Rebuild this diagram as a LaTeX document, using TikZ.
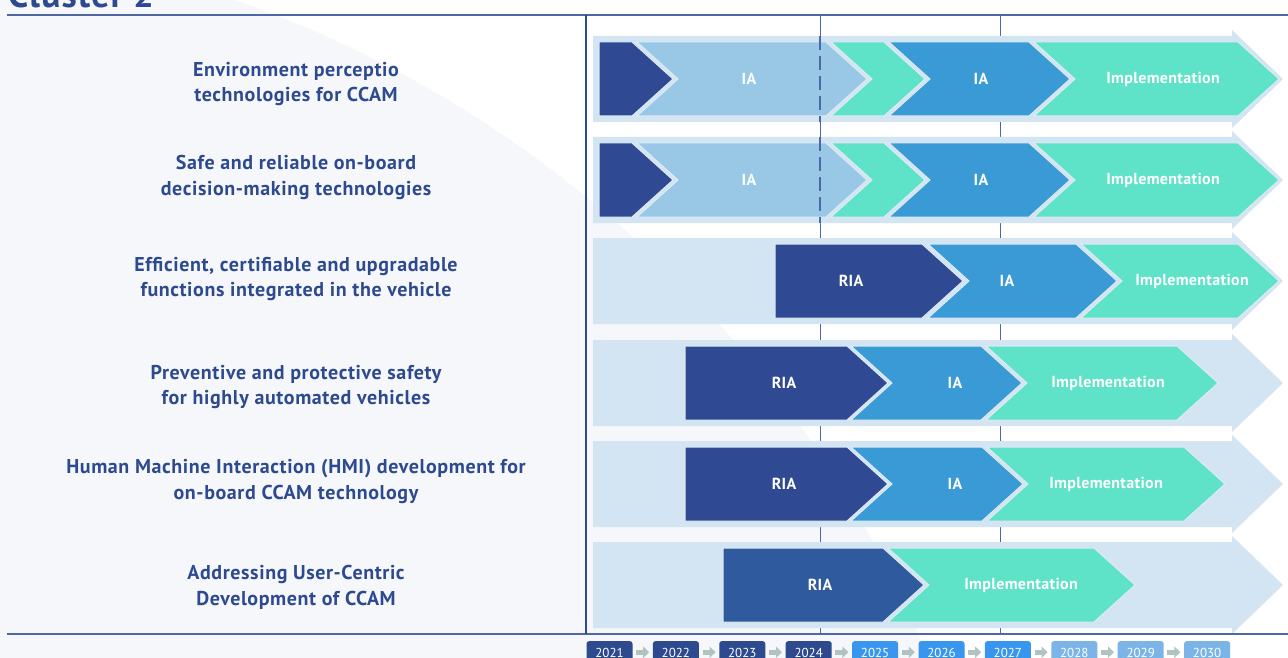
\documentclass[tikz,border=0pt]{standalone}
\usepackage{fontspec}
\setmainfont{PT Sans}
\newfontfamily\lblfont[LetterSpace=3]{PT Sans}
\newfontfamily\chvfont[LetterSpace=2]{PT Sans}
\usetikzlibrary{arrows.meta}
\definecolor{navy}{HTML}{2E4A8F}
\definecolor{rule}{HTML}{4F68A3}
\definecolor{gridc}{HTML}{4D68A8}
\definecolor{bandc}{HTML}{D3E5F2}
\definecolor{chevline}{HTML}{DCEBF5}
\definecolor{darkchev}{HTML}{2F4A92}
\definecolor{sixchev}{HTML}{2F5A9E}
\definecolor{lightia}{HTML}{99C8E7}
\definecolor{tealc}{HTML}{5EE2C8}
\definecolor{blueia}{HTML}{3A9AD6}
\definecolor{yrone}{HTML}{2D4A8E}
\definecolor{yrtwo}{HTML}{3896EE}
\definecolor{yrthree}{HTML}{7BB5E8}
\definecolor{yrarrow}{HTML}{AFC3C0}
\definecolor{faint}{HTML}{F5F7FB}
\newcommand\chevflat[4]{\path[fill=#4,chevedge] (#1,#3-37) -- (#2,#3-37) -- ({#2+41},#3) -- (#2,#3+37) -- (#1,#3+37) -- cycle;}
\newcommand\chevnotch[4]{\path[fill=#4,chevedge] (#1,#3-37) -- (#2,#3-37) -- ({#2+41},#3) -- (#2,#3+37) -- (#1,#3+37) -- ({#1+41},#3) -- cycle;}
\newcommand\bandrow[1]{\path[fill=bandc] (593,#1-43) -- (1232,#1-43) -- (1232,#1-49) -- (1283,#1) -- (1232,#1+49) -- (1232,#1+43) -- (593,#1+43) -- cycle;}
\begin{document}
\begin{tikzpicture}[x=1pt,y=-1pt,
  chevedge/.style={draw=chevline,line width=1pt},
  rowlabel/.style={text=navy,font=\lblfont\bfseries\fontsize{20}{25.5}\selectfont,align=center,inner sep=0pt},
  chevlabel/.style={text=white,font=\chvfont\bfseries\fontsize{16}{18}\selectfont,inner sep=0pt},
  yearbox/.style={rounded corners=2.5pt,minimum width=46pt,minimum height=24pt,inner sep=0pt,anchor=north,text=white,text depth=0pt,font=\fontsize{13}{14}\selectfont},
  yeararrow/.style={draw=yrarrow,line width=5pt,-{Triangle[width=11pt,length=6pt]},shorten <=3.5pt,shorten >=3.5pt},
  gridline/.style={draw=gridc,line width=1pt},
  axisline/.style={draw=rule,line width=1.4pt},
  dashline/.style={draw=gridc,line width=1.1pt,dash pattern=on 14pt off 6pt}
]
\useasboundingbox (0,0) rectangle (1288,658);
\clip (0,0) rectangle (1288,658);
\fill[white] (0,0) rectangle (1288,658);
% faint background arc
\fill[faint] (-150,1100) circle (1165);
% title
\node[anchor=base west,text=navy,font=\lblfont\bfseries\fontsize{36}{38}\selectfont,inner sep=0pt] (title) at (8,7.5) {Cluster 2};
% grid lines
\coordinate (g1t) at (820,15); \coordinate (g1b) at (820,634);
\coordinate (g2t) at (1000,15); \coordinate (g2b) at (1000,634);
\draw[gridline] (g1t) -- (g1b);
\draw[gridline] (g2t) -- (g2b);
% bands
\bandrow{79}
\bandrow{180}
\bandrow{281}
\bandrow{383}
\bandrow{484}
\bandrow{585}
% row 1
\chevflat{599}{632}{79}{darkchev}
\chevnotch{637}{826}{79}{lightia}
\chevnotch{831}{884}{79}{tealc}
\chevnotch{889}{1029}{79}{blueia}
\chevnotch{1034}{1238}{79}{tealc}
% row 2
\chevflat{599}{632}{180}{darkchev}
\chevnotch{637}{826}{180}{lightia}
\chevnotch{831}{884}{180}{tealc}
\chevnotch{889}{1029}{180}{blueia}
\chevnotch{1034}{1238}{180}{tealc}
% row 3
\chevflat{775}{922}{281}{darkchev}
\chevnotch{928}{1076}{281}{blueia}
\chevnotch{1081}{1238}{281}{tealc}
% row 4
\chevflat{685}{847}{383}{darkchev}
\chevnotch{851}{981}{383}{blueia}
\chevnotch{986}{1177}{383}{tealc}
% row 5
\chevflat{685}{847}{484}{darkchev}
\chevnotch{851}{982}{484}{blueia}
\chevnotch{987}{1184}{484}{tealc}
% row 6
\chevflat{723}{883}{585}{sixchev}
\chevnotch{888}{1094}{585}{tealc}
% dashed overlays rows 1-2
\coordinate (d1t) at (820,36); \coordinate (d1b) at (820,122);
\coordinate (d2t) at (820,137); \coordinate (d2b) at (820,223);
\draw[dashline] (d1t) -- (d1b);
\draw[dashline] (d2t) -- (d2b);
% axes
\coordinate (topl) at (7,15); \coordinate (topr) at (1288,15);
\coordinate (botl) at (7,634); \coordinate (botr) at (1288,634);
\coordinate (vt) at (586,15); \coordinate (vb) at (586,634);
\draw[axisline] (topl) -- (topr);
\draw[axisline] (botl) -- (botr);
\draw[draw=navy,line width=1.2pt] (vt) -- (vb);
% chevron labels
\node[chevlabel] (r1a) at (749,79) {IA};
\node[chevlabel] (r1b) at (981,79) {IA};
\node[chevlabel] (r1c) at (1163,79) {Implementation};
\node[chevlabel] (r2a) at (749,180) {IA};
\node[chevlabel] (r2b) at (981,180) {IA};
\node[chevlabel] (r2c) at (1163,180) {Implementation};
\node[chevlabel] (r3a) at (851,281) {RIA};
\node[chevlabel] (r3b) at (1007,281) {IA};
\node[chevlabel] (r3c) at (1192,281) {Implementation};
\node[chevlabel] (r4a) at (784,383) {RIA};
\node[chevlabel] (r4b) at (955,383) {IA};
\node[chevlabel] (r4c) at (1108,383) {Implementation};
\node[chevlabel] (r5a) at (784,484) {RIA};
\node[chevlabel] (r5b) at (955,484) {IA};
\node[chevlabel] (r5c) at (1106,484) {Implementation};
\node[chevlabel] (r6a) at (820,585) {RIA};
\node[chevlabel] (r6b) at (1021,585) {Implementation};
% row labels
\node[rowlabel] (l1) at (296,84) {Environment perceptio\\technologies for CCAM};
\node[rowlabel] (l2) at (296,177.5) {Safe and reliable on-board\\decision-making technologies};
\node[rowlabel] (l3) at (296,279) {Efficient, certifiable and upgradable\\functions integrated in the vehicle};
\node[rowlabel] (l4) at (296,387) {Preventive and protective safety\\for highly automated vehicles};
\node[rowlabel] (l5) at (296,481.5) {Human Machine Interaction (HMI) development for\\on-board CCAM technology};
\node[rowlabel] (l6) at (296,587.5) {Addressing User-Centric\\Development of CCAM};
% years
\node[yearbox,fill=yrone] (y1) at (609.5,641) {2021};
\node[yearbox,fill=yrone] (y2) at (675.9,641) {2022};
\node[yearbox,fill=yrone] (y3) at (742.3,641) {2023};
\node[yearbox,fill=yrone] (y4) at (808.7,641) {2024};
\node[yearbox,fill=yrtwo] (y5) at (875.1,641) {2025};
\node[yearbox,fill=yrtwo] (y6) at (941.5,641) {2026};
\node[yearbox,fill=yrtwo] (y7) at (1007.9,641) {2027};
\node[yearbox,fill=yrthree] (y8) at (1074.3,641) {2028};
\node[yearbox,fill=yrthree] (y9) at (1140.7,641) {2029};
\node[yearbox,fill=yrthree] (y10) at (1207.1,641) {2030};
\foreach \a/\b in {y1/y2,y2/y3,y3/y4,y4/y5,y5/y6,y6/y7,y7/y8,y8/y9,y9/y10}
  \draw[yeararrow] ([yshift=1pt]\a.east) -- ([yshift=1pt]\b.west);
\end{tikzpicture}
\end{document}
